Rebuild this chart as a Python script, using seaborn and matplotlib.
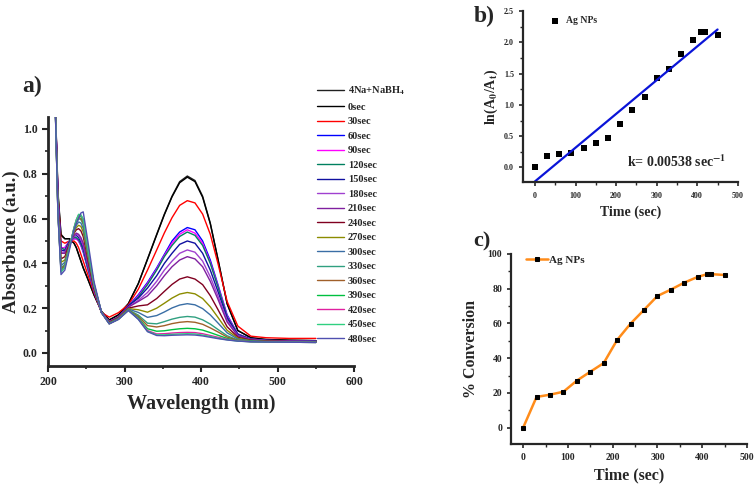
import matplotlib
matplotlib.use("Agg")
import matplotlib.pyplot as plt
from matplotlib.ticker import MultipleLocator
import pandas as pd
import seaborn as sns

# ---- panel a: UV-vis spectra (absorbance read at these wavelengths) ----
wavelength = [208, 213, 217, 222, 228, 234, 237, 240, 243, 246, 252, 260, 270, 280, 292, 305, 318, 330,
              342, 352, 362, 372, 382, 392, 402, 412, 422, 434, 448, 465, 485, 515, 550]

abs_4na = [1.30, 0.72, 0.53, 0.51, 0.51, 0.49, 0.47, 0.44, 0.41, 0.38, 0.33, 0.26, 0.185, 0.148, 0.17, 0.22, 0.31, 0.42,
           0.53, 0.62, 0.70, 0.765, 0.79, 0.77, 0.70, 0.58, 0.42, 0.22, 0.10, 0.068, 0.06, 0.057, 0.055]
abs_0s = [1.30, 0.71, 0.525, 0.51, 0.51, 0.49, 0.47, 0.44, 0.41, 0.38, 0.33, 0.26, 0.185, 0.147, 0.17, 0.22, 0.31, 0.418,
          0.527, 0.617, 0.697, 0.76, 0.785, 0.765, 0.695, 0.577, 0.418, 0.22, 0.10, 0.068, 0.06, 0.057, 0.055]
abs_30s = [1.30, 0.70, 0.50, 0.49, 0.50, 0.50, 0.49, 0.47, 0.44, 0.41, 0.35, 0.27, 0.18, 0.16, 0.18, 0.215, 0.285, 0.37,
           0.46, 0.536, 0.604, 0.659, 0.68, 0.67, 0.62, 0.53, 0.40, 0.23, 0.12, 0.075, 0.068, 0.065, 0.065]
abs_60s = [1.30, 0.69, 0.47, 0.47, 0.50, 0.51, 0.51, 0.50, 0.48, 0.45, 0.375, 0.28, 0.18, 0.14, 0.16, 0.21, 0.26, 0.315,
           0.38, 0.44, 0.50, 0.54, 0.56, 0.55, 0.50, 0.415, 0.305, 0.17, 0.085, 0.062, 0.056, 0.054, 0.052]
abs_90s = [1.30, 0.69, 0.47, 0.47, 0.50, 0.51, 0.51, 0.50, 0.48, 0.455, 0.38, 0.28, 0.18, 0.14, 0.16, 0.21, 0.255, 0.31,
           0.375, 0.435, 0.49, 0.53, 0.55, 0.535, 0.49, 0.405, 0.30, 0.165, 0.084, 0.062, 0.056, 0.054, 0.052]
abs_120s = [1.30, 0.68, 0.47, 0.46, 0.50, 0.515, 0.515, 0.505, 0.485, 0.46, 0.38, 0.28, 0.18, 0.14, 0.16, 0.21, 0.25, 0.305,
            0.37, 0.43, 0.48, 0.52, 0.54, 0.525, 0.48, 0.40, 0.295, 0.16, 0.083, 0.062, 0.056, 0.054, 0.052]
abs_150s = [1.30, 0.68, 0.46, 0.455, 0.495, 0.52, 0.525, 0.515, 0.495, 0.47, 0.39, 0.28, 0.18, 0.14, 0.16, 0.21, 0.245, 0.29,
            0.345, 0.40, 0.445, 0.485, 0.50, 0.49, 0.445, 0.37, 0.275, 0.155, 0.081, 0.061, 0.055, 0.053, 0.052]
abs_180s = [1.30, 0.67, 0.45, 0.45, 0.49, 0.52, 0.53, 0.525, 0.505, 0.48, 0.395, 0.28, 0.18, 0.14, 0.16, 0.205, 0.235, 0.27,
            0.32, 0.37, 0.41, 0.445, 0.46, 0.45, 0.41, 0.34, 0.255, 0.145, 0.078, 0.06, 0.055, 0.053, 0.051]
abs_210s = [1.30, 0.67, 0.445, 0.445, 0.49, 0.525, 0.535, 0.53, 0.515, 0.49, 0.40, 0.285, 0.18, 0.14, 0.16, 0.205, 0.23, 0.255,
            0.30, 0.345, 0.385, 0.415, 0.43, 0.42, 0.385, 0.32, 0.24, 0.138, 0.076, 0.059, 0.054, 0.052, 0.051]
abs_240s = [1.30, 0.66, 0.42, 0.43, 0.485, 0.535, 0.55, 0.555, 0.545, 0.52, 0.42, 0.29, 0.18, 0.137, 0.157, 0.20, 0.21, 0.215,
            0.243, 0.275, 0.306, 0.33, 0.34, 0.33, 0.305, 0.256, 0.194, 0.117, 0.07, 0.057, 0.053, 0.051, 0.05]
abs_270s = [1.30, 0.65, 0.405, 0.415, 0.48, 0.54, 0.56, 0.57, 0.565, 0.54, 0.433, 0.30, 0.18, 0.135, 0.155, 0.198, 0.193, 0.182,
            0.20, 0.222, 0.245, 0.263, 0.27, 0.264, 0.243, 0.206, 0.159, 0.101, 0.066, 0.055, 0.052, 0.05, 0.049]
abs_300s = [1.30, 0.64, 0.39, 0.405, 0.478, 0.546, 0.57, 0.585, 0.58, 0.557, 0.443, 0.30, 0.18, 0.134, 0.154, 0.196, 0.181, 0.159,
            0.167, 0.183, 0.201, 0.214, 0.22, 0.215, 0.198, 0.17, 0.134, 0.09, 0.062, 0.054, 0.051, 0.05, 0.049]
abs_330s = [1.30, 0.63, 0.38, 0.395, 0.475, 0.552, 0.58, 0.60, 0.595, 0.574, 0.454, 0.304, 0.18, 0.132, 0.152, 0.193, 0.169, 0.133,
            0.13, 0.14, 0.151, 0.159, 0.163, 0.16, 0.148, 0.129, 0.105, 0.077, 0.058, 0.052, 0.05, 0.049, 0.048]
abs_360s = [1.30, 0.63, 0.375, 0.39, 0.473, 0.554, 0.585, 0.605, 0.60, 0.582, 0.458, 0.306, 0.18, 0.131, 0.152, 0.192, 0.163, 0.122,
            0.116, 0.122, 0.131, 0.137, 0.14, 0.137, 0.128, 0.112, 0.094, 0.071, 0.057, 0.051, 0.05, 0.049, 0.048]
abs_390s = [1.30, 0.62, 0.367, 0.385, 0.472, 0.557, 0.59, 0.613, 0.61, 0.591, 0.464, 0.308, 0.18, 0.131, 0.151, 0.191, 0.157, 0.108,
            0.097, 0.099, 0.104, 0.108, 0.11, 0.108, 0.102, 0.091, 0.079, 0.065, 0.055, 0.051, 0.049, 0.048, 0.047]
abs_420s = [1.30, 0.62, 0.363, 0.382, 0.471, 0.559, 0.595, 0.617, 0.615, 0.596, 0.468, 0.309, 0.18, 0.13, 0.15, 0.19, 0.153, 0.10,
            0.085, 0.086, 0.089, 0.091, 0.092, 0.091, 0.086, 0.078, 0.07, 0.061, 0.054, 0.05, 0.049, 0.048, 0.047]
abs_450s = [1.30, 0.62, 0.361, 0.381, 0.47, 0.56, 0.595, 0.619, 0.617, 0.598, 0.469, 0.31, 0.18, 0.13, 0.15, 0.19, 0.151, 0.097,
            0.081, 0.081, 0.083, 0.085, 0.086, 0.085, 0.08, 0.074, 0.066, 0.059, 0.053, 0.05, 0.049, 0.048, 0.047]
abs_480s = [1.30, 0.62, 0.35, 0.37, 0.46, 0.55, 0.58, 0.60, 0.625, 0.63, 0.50, 0.32, 0.18, 0.13, 0.15, 0.19, 0.15, 0.095,
            0.078, 0.077, 0.079, 0.08, 0.081, 0.08, 0.076, 0.07, 0.064, 0.058, 0.053, 0.05, 0.049, 0.048, 0.047]

spectra = [abs_4na, abs_0s, abs_30s, abs_60s, abs_90s, abs_120s, abs_150s, abs_180s, abs_210s,
           abs_240s, abs_270s, abs_300s, abs_330s, abs_360s, abs_390s, abs_420s, abs_450s, abs_480s]
spectra_labels = ["4Na+NaBH$_4$", "0sec", "30sec", "60sec", "90sec", "120sec", "150sec", "180sec",
                  "210sec", "240sec", "270sec", "300sec", "330sec", "360sec", "390sec", "420sec",
                  "450sec", "480sec"]
spectra_colors = ["#202020", "#000000", "#ff0000", "#0000ff", "#ff00ff", "#008060", "#1010a0", "#a040d0",
                  "#8020a0", "#800020", "#8c8c00", "#3a6ea5", "#30a080", "#a0602a", "#00c040", "#e020a0",
                  "#30d080", "#5050b0"]

# ---- panels b and c: kinetics ----
time_s = [0, 30, 60, 90, 120, 150, 180, 210, 240, 270, 300, 330, 360, 390, 410, 420, 450]
ln_ratio = [0.0, 0.19, 0.21, 0.23, 0.31, 0.39, 0.47, 0.70, 0.91, 1.13, 1.43, 1.58, 1.81, 2.03, 2.16, 2.17, 2.11]
conversion = [0, 17.7, 19.0, 20.7, 27.1, 32.2, 37.2, 50.5, 59.9, 67.8, 75.8, 79.5, 83.5, 86.8, 88.3, 88.4, 87.9]

sns.set_style("ticks")
plt.rcParams["font.family"] = ["Liberation Serif", "DejaVu Serif"]
plt.rcParams["font.weight"] = "bold"
plt.rcParams["axes.labelweight"] = "bold"
plt.rcParams["mathtext.fontset"] = "stix"
plt.rcParams["mathtext.default"] = "bf"

fig = plt.figure(figsize=(7.56, 4.86), dpi=100)
ax_a = fig.add_axes([0.0635, 0.247, 0.405, 0.512])
ax_b = fig.add_axes([0.692, 0.6245, 0.284, 0.353])
ax_c = fig.add_axes([0.676, 0.0864, 0.312, 0.391])

# long table for seaborn
rows = []
for lab, vals in zip(spectra_labels, spectra):
    for w, a in zip(wavelength, vals):
        rows.append((lab, w, a))
df_a = pd.DataFrame(rows, columns=["Sample", "Wavelength", "Absorbance"])

sns.lineplot(data=df_a, x="Wavelength", y="Absorbance", hue="Sample", hue_order=spectra_labels,
             palette=spectra_colors, estimator=None, sort=False, lw=1.0, ax=ax_a)
handles, labels = ax_a.get_legend_handles_labels()
ax_a.get_legend().remove()
fig.legend(handles, labels, loc="upper left", bbox_to_anchor=(0.407, 0.845), frameon=False,
           handlelength=2.6, handletextpad=0.35, labelspacing=0.5,
           prop={"weight": "bold", "size": 7.5})

ax_a.set_xlim(200, 600)
ax_a.set_ylim(-0.058, 1.053)
ax_a.xaxis.set_major_locator(MultipleLocator(100))
ax_a.xaxis.set_minor_locator(MultipleLocator(50))
ax_a.yaxis.set_major_locator(MultipleLocator(0.2))
ax_a.yaxis.set_minor_locator(MultipleLocator(0.1))
ax_a.set_xlabel("Wavelength (nm)", fontsize=14.5, fontweight="bold")
ax_a.set_ylabel("Absorbance (a.u.)", fontsize=13.5, fontweight="bold", labelpad=2)
ax_a.tick_params(which="major", length=4, width=1.5, labelsize=8.5)
ax_a.tick_params(which="minor", length=2.5, width=1.2)
for side in ["left", "bottom"]:
    ax_a.spines[side].set_linewidth(2)
sns.despine(ax=ax_a)

# panel b
df_b = pd.DataFrame({"Time": time_s, "ln": ln_ratio})
sns.regplot(data=df_b, x="Time", y="ln", scatter=False, ci=None, truncate=True,
            line_kws={"color": "#0a14d8", "lw": 1.6}, ax=ax_b)
sns.scatterplot(data=df_b, x="Time", y="ln", marker="s", color="black", s=15, linewidth=0,
                label="Ag NPs", ax=ax_b)
ax_b.legend(loc="upper left", bbox_to_anchor=(0.06, 1.02), frameon=False, handletextpad=0.2,
            prop={"weight": "bold", "size": 7})
ax_b.text(228, 0.09, "k= 0.00538 sec$^{-1}$", fontsize=10, fontweight="bold", va="center")
ax_b.set_xlim(-29, 500)
ax_b.set_ylim(-0.24, 2.5)
ax_b.xaxis.set_major_locator(MultipleLocator(100))
ax_b.xaxis.set_minor_locator(MultipleLocator(50))
ax_b.yaxis.set_major_locator(MultipleLocator(0.5))
ax_b.yaxis.set_minor_locator(MultipleLocator(0.25))
ax_b.set_xlabel("Time (sec)", fontsize=10, fontweight="bold")
ax_b.set_ylabel("ln(A$_0$/A$_t$)", fontsize=10, fontweight="bold", labelpad=3)
ax_b.tick_params(which="major", length=3, width=1.2, labelsize=5.8)
ax_b.tick_params(which="minor", length=2, width=1)
for side in ["left", "bottom"]:
    ax_b.spines[side].set_linewidth(1.6)
sns.despine(ax=ax_b)

# panel c
df_c = pd.DataFrame({"Time": time_s, "Conversion": conversion})
sns.lineplot(data=df_c, x="Time", y="Conversion", color="#ff8c1a", lw=1.8, marker="s",
             markersize=3.4, markerfacecolor="black", markeredgecolor="black",
             label="Ag NPs", ax=ax_c)
ax_c.legend(loc="upper left", bbox_to_anchor=(0.02, 1.045), frameon=False, handlelength=2.0,
            handletextpad=0.05, prop={"weight": "bold", "size": 8})
ax_c.set_xlim(-27, 500)
ax_c.set_ylim(-9.4, 100)
ax_c.xaxis.set_major_locator(MultipleLocator(100))
ax_c.xaxis.set_minor_locator(MultipleLocator(50))
ax_c.yaxis.set_major_locator(MultipleLocator(20))
ax_c.yaxis.set_minor_locator(MultipleLocator(10))
ax_c.set_xlabel("Time (sec)", fontsize=11.5, fontweight="bold")
ax_c.set_ylabel("% Conversion", fontsize=11.5, fontweight="bold", labelpad=6)
ax_c.tick_params(which="major", length=3, width=1.2, labelsize=7)
ax_c.tick_params(which="minor", length=2, width=1)
for side in ["left", "bottom"]:
    ax_c.spines[side].set_linewidth(1.6)
sns.despine(ax=ax_c)

# panel letters
fig.text(0.03, 0.81, "a)", fontsize=17, fontweight="bold")
fig.text(0.626, 0.955, "b)", fontsize=17, fontweight="bold")
fig.text(0.626, 0.492, "c)", fontsize=16, fontweight="bold")

fig.savefig("out.png", dpi=100)
